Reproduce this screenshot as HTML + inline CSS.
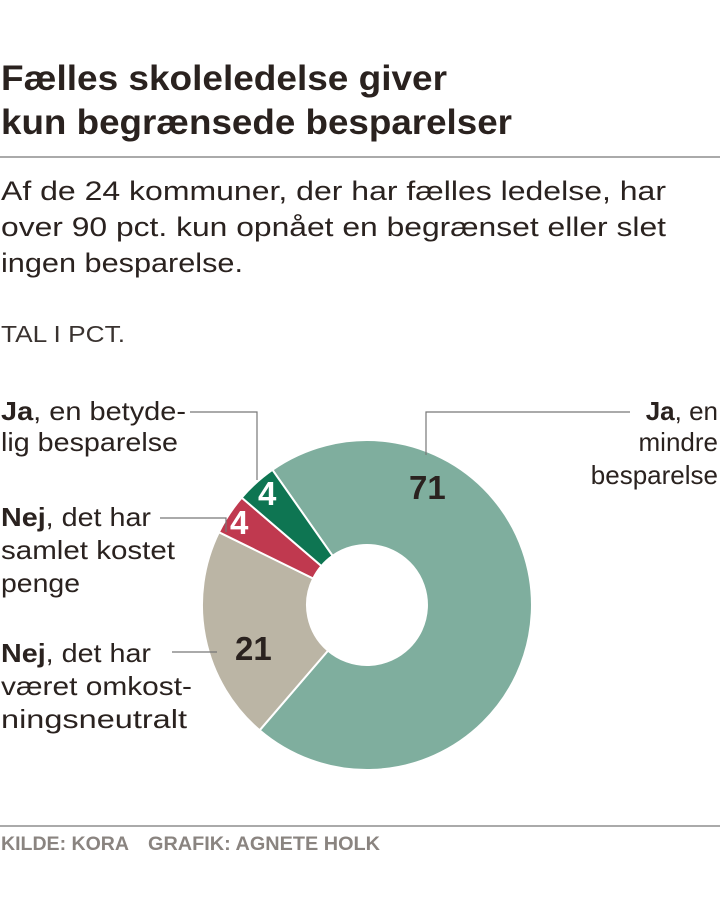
<!DOCTYPE html>
<html><head><meta charset="utf-8"><style>
body{margin:0;background:#fff}
svg{display:block}
text{font-family:"Liberation Sans",sans-serif}
</style></head><body>
<svg width="720" height="902" viewBox="0 0 720 902">
<g fill="#2a221f" font-weight="bold" font-size="35">
<text x="1" y="90" textLength="446" lengthAdjust="spacingAndGlyphs">Fælles skoleledelse giver</text>
<text x="1" y="134" textLength="511" lengthAdjust="spacingAndGlyphs">kun begrænsede besparelser</text>
</g>
<line x1="0" y1="157" x2="720" y2="157" stroke="#777" stroke-width="1.2"/>
<g fill="#2a221f" font-size="27">
<text x="1" y="200" textLength="665" lengthAdjust="spacingAndGlyphs">Af de 24 kommuner, der har fælles ledelse, har</text>
<text x="1" y="236" textLength="665" lengthAdjust="spacingAndGlyphs">over 90 pct. kun opnået en begrænset eller slet</text>
<text x="1" y="272" textLength="242" lengthAdjust="spacingAndGlyphs">ingen besparelse.</text>
</g>
<text x="1" y="342" font-size="23" fill="#3a3330" textLength="124" lengthAdjust="spacingAndGlyphs" style="font-weight:300">TAL I PCT.</text>

<g stroke="#fff" stroke-width="2">
<path d="M272.4,469.8 A165,165 0 1 1 259.6,730.3 L328.0,650.6 A60,60 0 1 0 332.6,555.8 Z" fill="#7fae9e"/>
<path d="M259.6,730.3 A165,165 0 0 1 218.9,532.2 L313.2,578.5 A60,60 0 0 0 328.0,650.6 Z" fill="#bbb5a5"/>
<path d="M218.9,532.2 A165,165 0 0 1 241.7,497.6 L321.4,566.0 A60,60 0 0 0 313.2,578.5 Z" fill="#c0394f"/>
<path d="M241.7,497.6 A165,165 0 0 1 272.4,469.8 L332.6,555.8 A60,60 0 0 0 321.4,566.0 Z" fill="#0e7552"/>
</g>

<g stroke="#777" stroke-width="1.2" fill="none">
<polyline points="190,412 257,412 257,480"/>
<polyline points="160,518 226,518 226,532"/>
<polyline points="172,652 217,652"/>
<polyline points="630,412 426,412 426,455"/>
</g>

<g font-weight="bold" font-size="33">
<text x="409" y="499" fill="#2a221f">71</text>
<text x="235" y="660" fill="#2a221f">21</text>
<text x="258" y="505" fill="#fff">4</text>
<text x="230" y="534" fill="#fff">4</text>
</g>

<g fill="#2a221f" font-size="26">
<text x="1" y="420" textLength="185" lengthAdjust="spacingAndGlyphs"><tspan font-weight="bold">Ja</tspan>, en betyde-</text>
<text x="1" y="451" textLength="177" lengthAdjust="spacingAndGlyphs">lig besparelse</text>
<text x="1" y="526" textLength="150" lengthAdjust="spacingAndGlyphs"><tspan font-weight="bold">Nej</tspan>, det har</text>
<text x="1" y="559" textLength="174" lengthAdjust="spacingAndGlyphs">samlet kostet</text>
<text x="1" y="592" textLength="79" lengthAdjust="spacingAndGlyphs">penge</text>
<text x="1" y="662" textLength="150" lengthAdjust="spacingAndGlyphs"><tspan font-weight="bold">Nej</tspan>, det har</text>
<text x="1" y="695" textLength="191" lengthAdjust="spacingAndGlyphs">været omkost-</text>
<text x="1" y="728" textLength="186" lengthAdjust="spacingAndGlyphs">ningsneutralt</text>
<text x="718" y="420" text-anchor="end"><tspan font-weight="bold">Ja</tspan>, en</text>
<text x="718" y="451" text-anchor="end">mindre</text>
<text x="718" y="484" text-anchor="end">besparelse</text>
</g>

<g font-size="19" font-weight="bold" fill="#8a8480">
<text x="1" y="850" textLength="128" lengthAdjust="spacingAndGlyphs">KILDE: KORA</text>
<text x="148" y="850" textLength="232" lengthAdjust="spacingAndGlyphs">GRAFIK: AGNETE HOLK</text>
</g>
<line x1="0" y1="826" x2="720" y2="826" stroke="#777" stroke-width="1.2"/>
</svg>
</body></html>
